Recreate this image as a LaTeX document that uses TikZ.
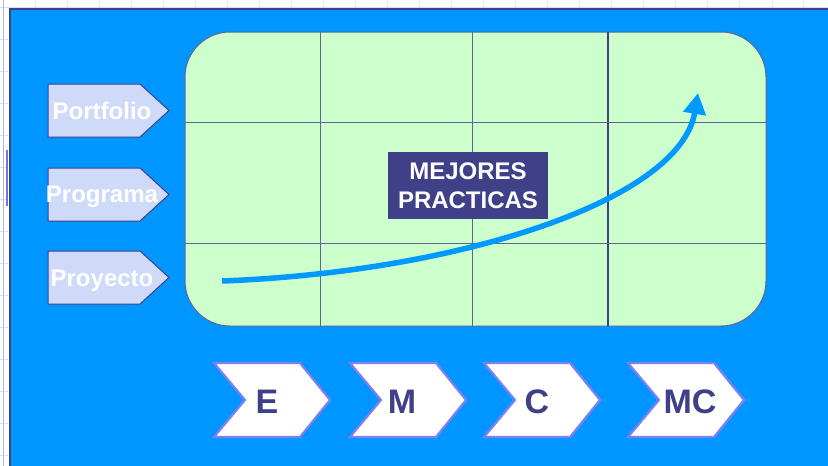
\documentclass[tikz,border=0pt]{standalone}
\usepackage{fontspec}
\setmainfont{Liberation Sans}
\usetikzlibrary{arrows.meta}
\definecolor{bgblue}{RGB}{0,150,255}
\definecolor{mint}{RGB}{204,255,204}
\definecolor{gridc}{RGB}{96,100,150}
\definecolor{navy}{RGB}{64,64,136}
\definecolor{lchevfill}{RGB}{206,218,248}
\definecolor{bchevline}{RGB}{128,128,245}
\definecolor{arrowc}{RGB}{0,153,255}
\definecolor{faint}{RGB}{215,220,245}
\tikzset{
  lchev/.style={fill=lchevfill, draw=navy, line width=1pt},
  ltext/.style={anchor=base, text=white, font=\fontsize{24}{28}\selectfont\bfseries, inner sep=0pt},
  bchev/.style={fill=white, draw=bchevline, line width=2.2pt, line join=miter},
  btext/.style={anchor=base, text=navy, font=\fontsize{34}{40}\selectfont\bfseries, inner sep=0pt},
  gline/.style={draw=gridc, line width=1pt},
  faintline/.style={draw=faint, line width=0.8pt, dash pattern=on 3pt off 2pt}
}
\begin{document}
\begin{tikzpicture}[x=1pt,y=-1pt]
\useasboundingbox (0,0) rectangle (828,466);
\fill[white] (0,0) rectangle (828,466);
% faint page grid in the white margins
\foreach \gx in {35,67,99,131,163,195,227,259,291,323,355,387,419,451,483,515,547,579,611,643,675,707,739,772,803}
  \draw[faintline] (\gx,0) -- (\gx,9);
\foreach \gy in {39,71,103,135,167,199,231,263,295,327,359,391,423,455}
  \draw[faintline] (0,\gy) -- (10,\gy);
\draw[draw=faint, line width=1pt] (0,7.5) -- (828,7.5);
\draw[draw={rgb,255:red,170;green,180;blue,240}, line width=1pt] (3,0) -- (3,466);
\draw[draw={rgb,255:red,110;green,120;blue,220}, line width=1.2pt] (7,150) -- (7,206);
% blue panel
\fill[bgblue] (10,9) rectangle (830,470);
\draw[draw=navy, line width=1.5pt] (10,470) -- (10,9) -- (830,9);
% green rounded field
\path[fill=mint, draw=gridc, line width=1pt, rounded corners=45pt] (185,32) rectangle (766,326);
\draw[gline] (320,32) -- (320,326);
\draw[gline] (472,32) -- (472,326);
\draw[draw=navy, line width=1.5pt] (608,32) -- (608,326);
\draw[gline] (185,122) -- (766,122);
\draw[gline] (185,243) -- (766,243);
% rising arrow
\coordinate (curveStart) at (222,281);
\coordinate (curveEnd) at (698,93);
\draw[draw=arrowc, line width=5.5pt, -{Triangle[length=21pt,width=22pt]}]
  (curveStart) .. controls (460,272) and (680,200) .. (curveEnd);
% central label
\node[fill=navy, text=white, minimum width=160pt, minimum height=67pt, inner sep=0pt,
      font=\fontsize{24}{29}\selectfont\bfseries, align=center] (best) at (468,185.5)
      {MEJORES\\PRACTICAS};
% left chevrons
\draw[lchev] (48,84) -- (140,84) -- (169,110.5) -- (140,137) -- (48,137) -- cycle;
\node[ltext] (portfolio) at (102,119) {Portfolio};
\draw[lchev] (48,168) -- (140,168) -- (169,194.5) -- (140,221) -- (48,221) -- cycle;
\node[ltext] (programa) at (102,202.5) {Programa};
\draw[lchev] (48,251) -- (140,251) -- (169,277.5) -- (140,304) -- (48,304) -- cycle;
\node[ltext] (proyecto) at (102,286) {Proyecto};
% bottom chevrons
\draw[bchev] (214,363) -- (300,363) -- (330,400) -- (300,437) -- (214,437) -- (245,400) -- cycle;
\node[btext] (e) at (267,413) {E};
\draw[bchev] (350,363) -- (436,363) -- (466,400) -- (436,437) -- (350,437) -- (381,400) -- cycle;
\node[btext] (m) at (402,413) {M};
\draw[bchev] (484,363) -- (570,363) -- (600,400) -- (570,437) -- (484,437) -- (515,400) -- cycle;
\node[btext] (c) at (537,413) {C};
\draw[bchev] (628,363) -- (714,363) -- (744,400) -- (714,437) -- (628,437) -- (659,400) -- cycle;
\node[btext] (mc) at (690,413) {MC};
\end{tikzpicture}
\end{document}
